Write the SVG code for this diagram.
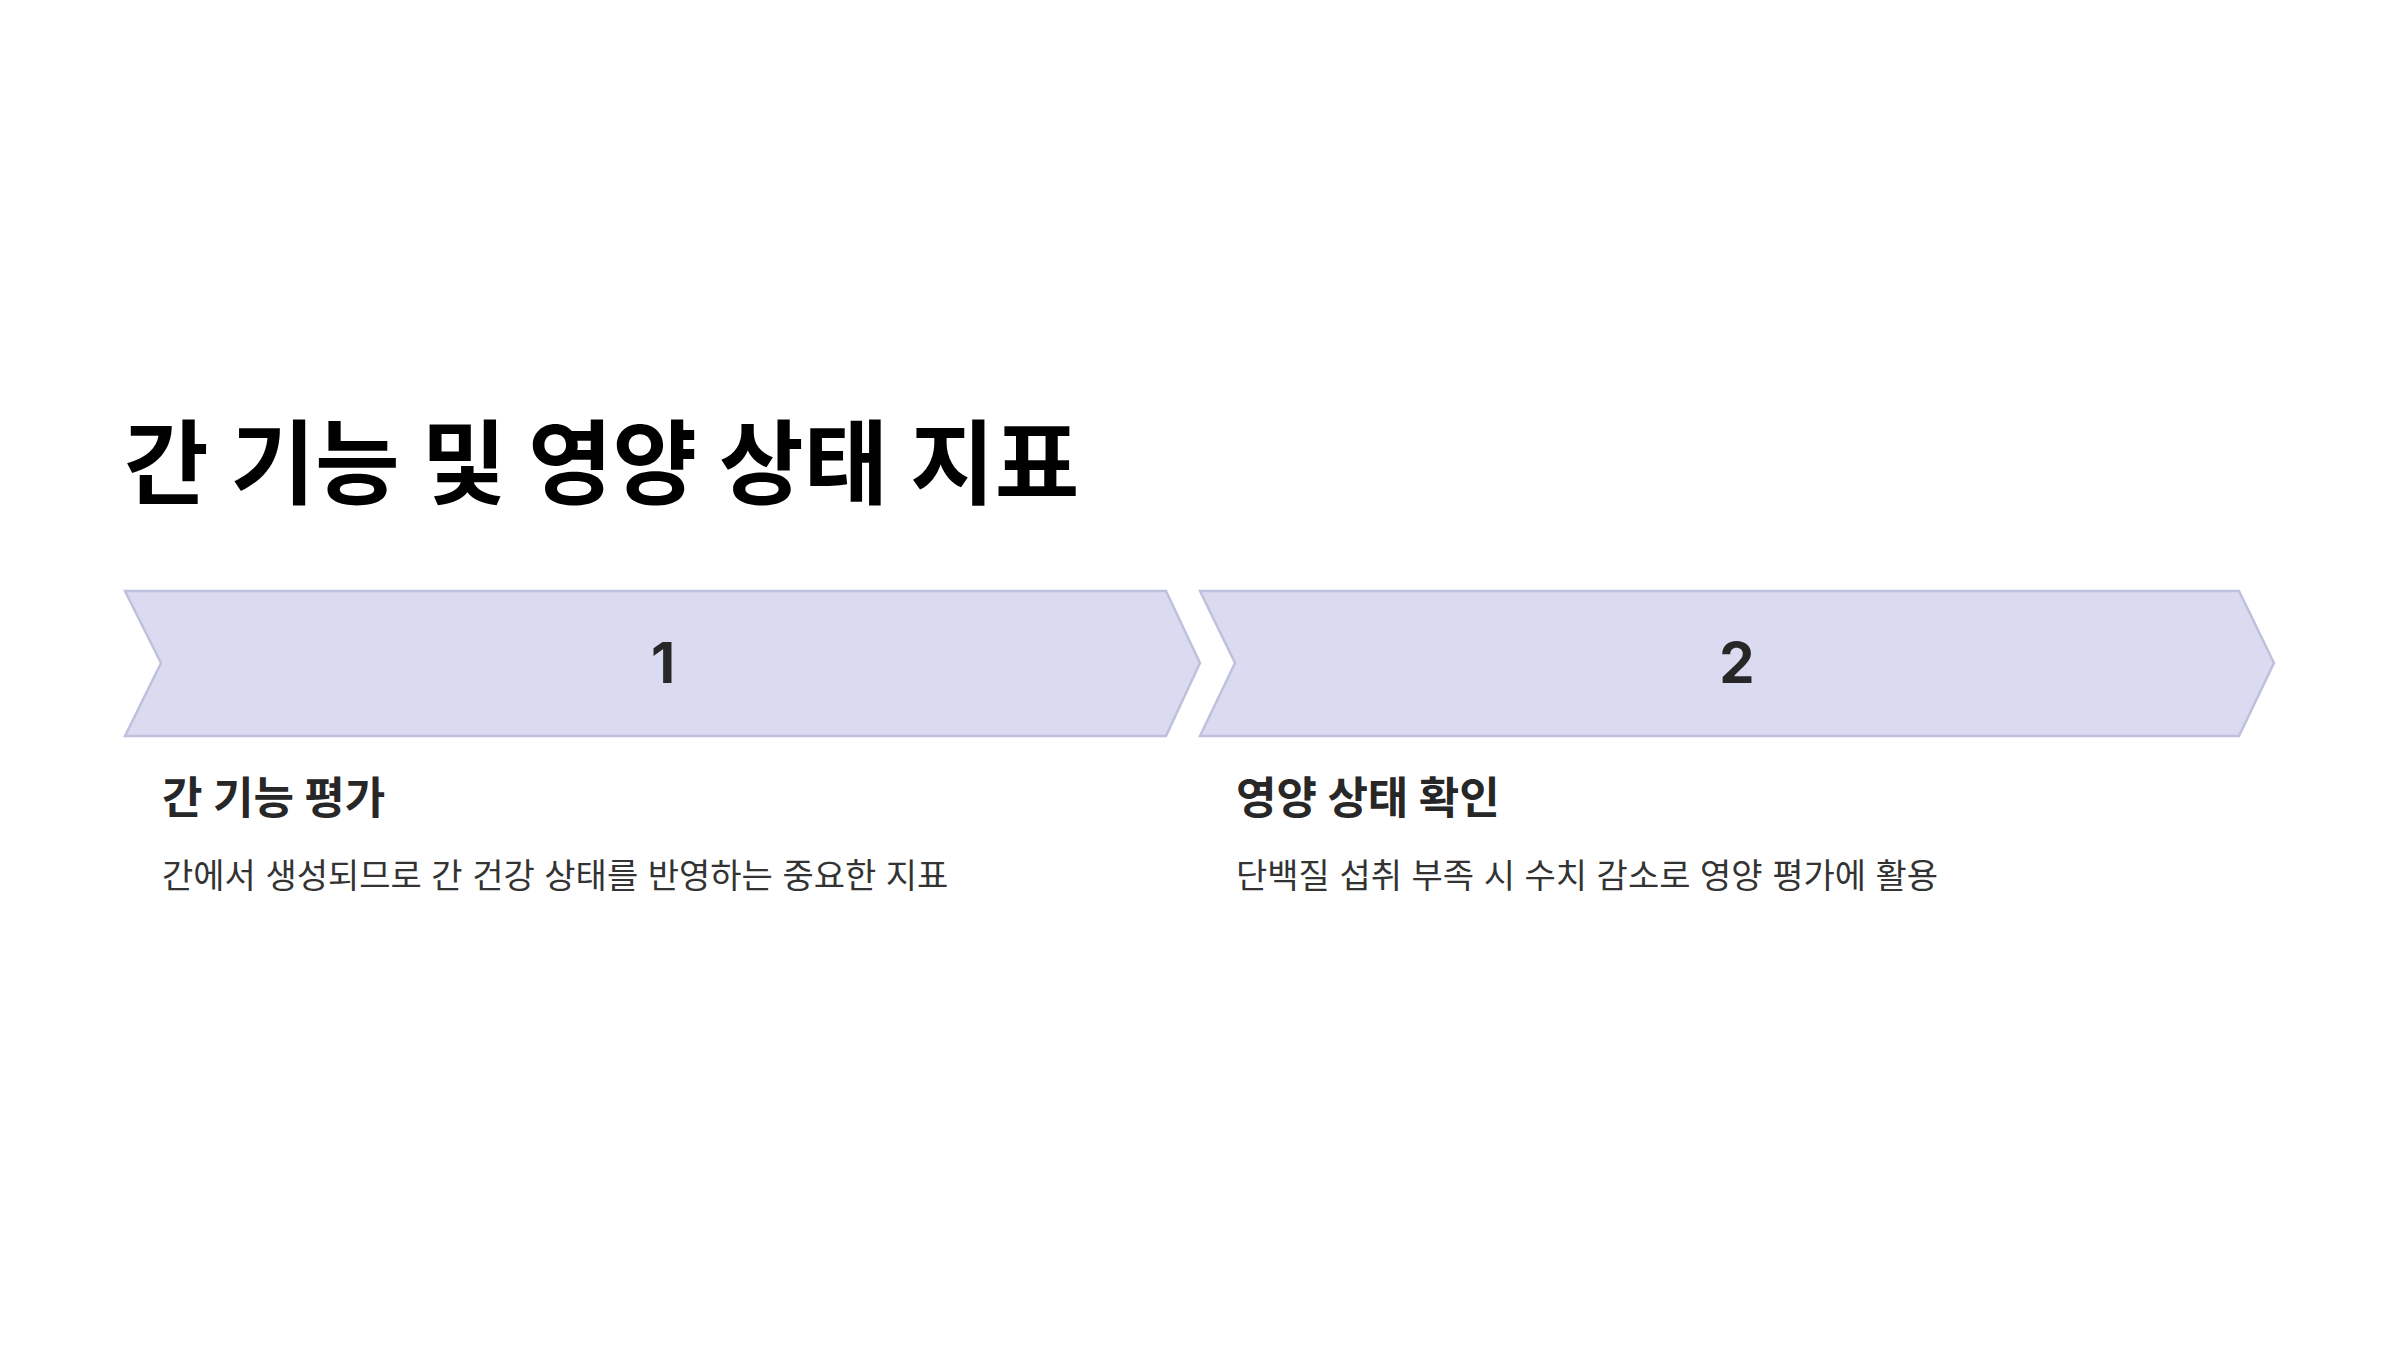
<svg xmlns="http://www.w3.org/2000/svg" width="2400" height="1350" viewBox="0 0 2400 1350">
<style>
text{font-family:"Inter","Noto Sans CJK KR",sans-serif;}
.chev{fill:#dadbf0;stroke:#bfc0dd;stroke-width:2.5}
.title{font-size:92px;font-weight:700;fill:#000}
.num{font-size:56px;font-weight:700;fill:#272727;text-anchor:middle}
.head{font-size:44px;font-weight:700;fill:#272727}
.desc{font-size:34px;fill:#333}
</style>
<rect width="2400" height="1350" fill="#fff"/>
<text class="title" x="124" y="497">간 기능 및 영양 상태 지표</text>
<g id="step1">
<polygon class="chev" points="125,591 1166,591 1200,663 1166,736 125,736 161,663"/>
<text class="num" x="663" y="683">1</text>
<text class="head" x="162" y="814">간 기능 평가</text>
<text class="desc" x="162" y="888">간에서 생성되므로 간 건강 상태를 반영하는 중요한 지표</text>
</g>
<g id="step2">
<polygon class="chev" points="1200,591 2239,591 2274,663 2239,736 1200,736 1235,663"/>
<text class="num" x="1737" y="683">2</text>
<text class="head" x="1236" y="814">영양 상태 확인</text>
<text class="desc" x="1236" y="888">단백질 섭취 부족 시 수치 감소로 영양 평가에 활용</text>
</g>
<g id="connectors"/>
</svg>
